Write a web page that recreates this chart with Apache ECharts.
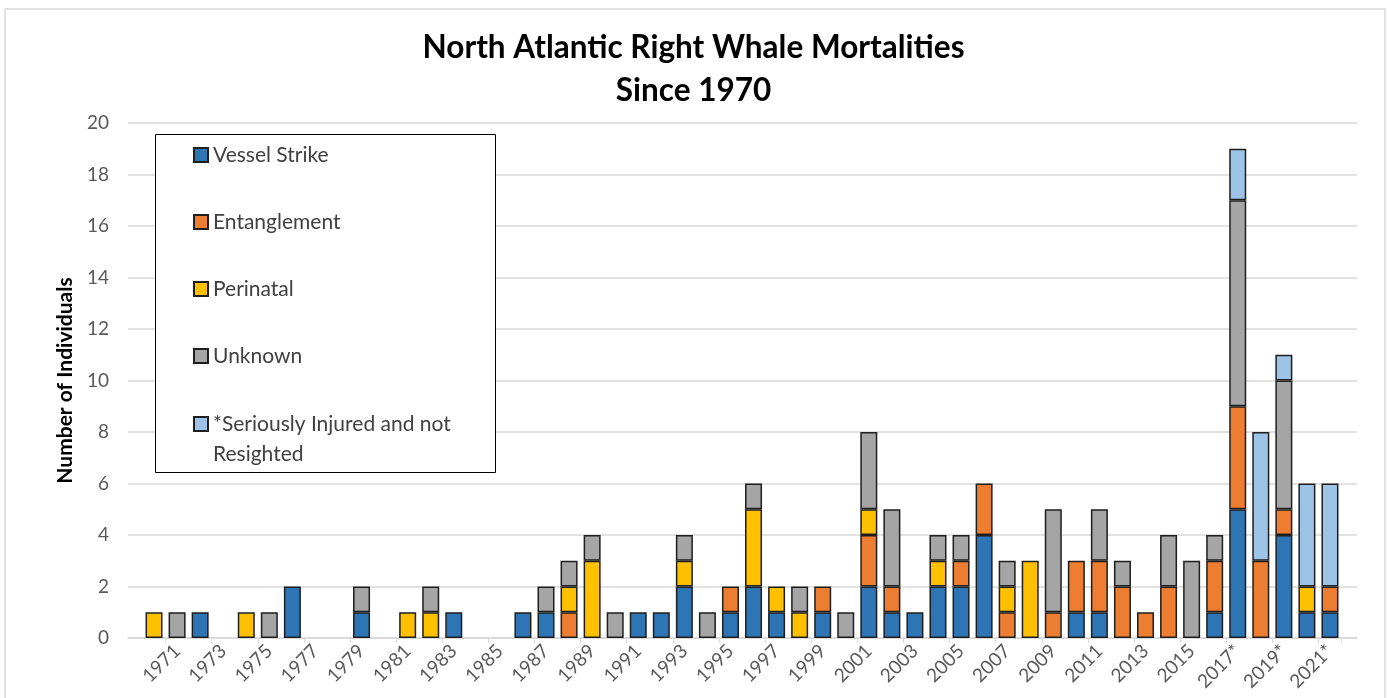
<!DOCTYPE html>
<html>
<head>
<meta charset="utf-8">
<script src="https://cdn.jsdelivr.net/npm/echarts@6/dist/echarts.min.js"></script>
<style>
  html, body { margin: 0; padding: 0; background: #fff; }
  #chart { width: 1387px; height: 698px; }
</style>
</head>
<body>
<div id="chart"></div>
<script>
// years 1970..2021, * = seriously injured counted
const years = ['1970','1971','1972','1973','1974','1975','1976','1977','1978','1979',
  '1980','1981','1982','1983','1984','1985','1986','1987','1988','1989',
  '1990','1991','1992','1993','1994','1995','1996','1997','1998','1999',
  '2000','2001','2002','2003','2004','2005','2006','2007','2008','2009',
  '2010','2011','2012','2013','2014','2015','2016','2017*','2018*','2019*',
  '2020*','2021*'];

const vesselStrike = [0,0,1,0,0,0,2,0,0,1, 0,0,0,1,0,0,1,1,0,0, 0,1,1,2,0,1,2,1,0,1,
  0,2,1,1,2,2,4,0,0,0, 1,1,0,0,0,0,1,5,0,4, 1,1];
const entanglement = [0,0,0,0,0,0,0,0,0,0, 0,0,0,0,0,0,0,0,1,0, 0,0,0,0,0,1,0,0,0,1,
  0,2,1,0,0,1,2,1,0,1, 2,2,2,1,2,0,2,4,3,1, 0,1];
const perinatal = [1,0,0,0,1,0,0,0,0,0, 0,1,1,0,0,0,0,0,1,3, 0,0,0,1,0,0,3,1,1,0,
  0,1,0,0,1,0,0,1,3,0, 0,0,0,0,0,0,0,0,0,0, 1,0];
const unknown = [0,1,0,0,0,1,0,0,0,1, 0,0,1,0,0,0,0,1,1,1, 1,0,0,1,1,0,1,0,1,0,
  1,3,3,0,1,1,0,1,0,4, 0,2,1,0,2,3,1,8,0,5, 0,0];
const seriouslyInjured = [0,0,0,0,0,0,0,0,0,0, 0,0,0,0,0,0,0,0,0,0, 0,0,0,0,0,0,0,0,0,0,
  0,0,0,0,0,0,0,0,0,0, 0,0,0,0,0,0,0,2,5,1, 4,4];

const seriesNames = ['Vessel Strike','Entanglement','Perinatal','Unknown','*Seriously Injured and not Resighted'];
const seriesValues = [vesselStrike, entanglement, perinatal, unknown, seriouslyInjured];
const colors = ['#2e75b6','#ed7d31','#ffc000','#a5a5a5','#9dc3e6'];

const FONT = 'Lato';

let drawChart = echarts.init(document.getElementById('chart'));

let series = seriesNames.map(function(name, i) {
  return {
    name: name,
    type: 'bar',
    stack: 'total',
    xAxisIndex: 1,
    yAxisIndex: 1,
    barWidth: 17,
    itemStyle: {
      color: colors[i],
      borderColor: '#1e1e1e',
      borderWidth: 1.5
    },
    data: seriesValues[i].map(function(v){ return v === 0 ? '-' : v; })
  };
});

let oddOnly = function(idx){ return idx % 2 === 1; };

let legendText = { fontFamily: FONT, fontSize: 21, color: '#404040', lineHeight: 30 };

let option = {
  animation: false,
  color: colors,
  title: {
    text: 'North Atlantic Right Whale Mortalities\nSince 1970',
    left: 'center',
    top: 21,
    textStyle: {
      fontFamily: FONT,
      fontSize: 31.5,
      fontWeight: 'bold',
      color: '#000',
      lineHeight: 43
    }
  },
  graphic: [
    {
      type: 'rect',
      shape: { x: 5, y: 9, width: 1380, height: 700 },
      style: { fill: 'none', stroke: '#d9d9d9', lineWidth: 1.5 },
      silent: true
    },
    {
      type: 'rect',
      shape: { x: 155.5, y: 134.5, width: 340, height: 338 },
      style: { fill: '#fff', stroke: '#000', lineWidth: 1 },
      z: 5,
      silent: true
    }
  ],
  legend: [
    {
      orient: 'vertical',
      left: 193,
      top: 140,
      padding: 0,
      itemGap: 37,
      itemWidth: 14,
      itemHeight: 14,
      icon: 'rect',
      z: 10,
      textStyle: legendText,
      data: seriesNames.slice(0, 4)
    },
    {
      // blank first line keeps the icon level with the first text line
      orient: 'vertical',
      left: 193,
      top: 379,
      padding: 0,
      itemWidth: 14,
      itemHeight: 14,
      icon: 'rect',
      z: 10,
      formatter: function(name){ return '\n' + name.replace(' Resighted', '\nResighted'); },
      textStyle: legendText,
      data: [seriesNames[4]]
    }
  ],
  grid: [
    { left: 128, right: 30, top: 123, bottom: 60 },
    { left: 142.5, width: 1199, top: 123, bottom: 60 }
  ],
  xAxis: [
    {
      type: 'value',
      gridIndex: 0,
      min: 0,
      max: 1,
      axisLine: { show: true, onZero: false, lineStyle: { color: '#d9d9d9', width: 1.5 } },
      axisTick: { show: false },
      axisLabel: { show: false },
      splitLine: { show: false }
    },
    {
      type: 'category',
      gridIndex: 1,
      data: years,
      boundaryGap: true,
      axisLine: { show: false },
      axisTick: { show: true, interval: oddOnly, length: 5, lineStyle: { color: '#d9d9d9' } },
      axisLabel: {
        interval: oddOnly,
        rotate: 45,
        margin: 10,
        fontFamily: FONT,
        fontSize: 19,
        color: '#595959'
      }
    }
  ],
  yAxis: [
    {
      type: 'value',
      gridIndex: 0,
      min: 0,
      max: 20,
      interval: 2,
      name: 'Number of Individuals',
      nameLocation: 'middle',
      nameGap: 52,
      nameTextStyle: { fontFamily: FONT, fontSize: 21, fontWeight: 'bold', color: '#000' },
      axisLine: { show: false },
      axisTick: { show: false },
      axisLabel: { margin: 19, fontFamily: FONT, fontSize: 19, color: '#595959' },
      splitLine: { lineStyle: { color: '#d9d9d9', width: 1.5 } }
    },
    {
      type: 'value',
      gridIndex: 1,
      min: 0,
      max: 20,
      interval: 2,
      show: false,
      splitLine: { show: false }
    }
  ],
  series: series
};

drawChart.setOption(option);
</script>
</body>
</html>
